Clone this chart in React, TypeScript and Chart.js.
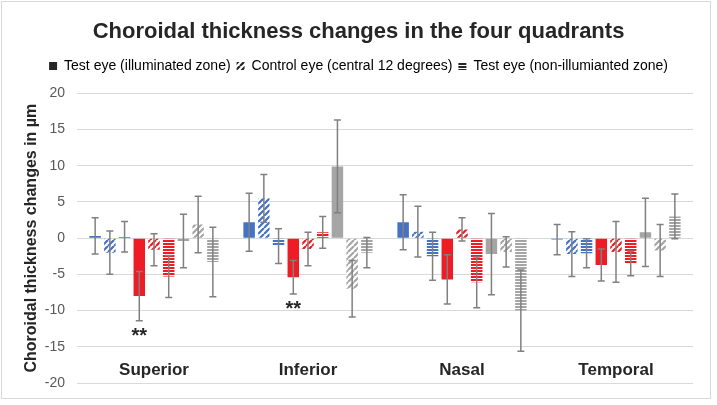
import React, { useEffect, useRef } from 'react';
import { Chart, registerables } from 'chart.js';

Chart.register(...registerables);

// ---------- data ----------
const categories = ['Superior', 'Inferior', 'Nasal', 'Temporal'];
const legendLabels = [
  'Test eye (illuminated zone)',
  'Control eye (central 12 degrees)',
  'Test eye (non-illumianted zone)',
];
const titleText = 'Choroidal thickness changes in the four quadrants';
const yAxisTitle = 'Choroidal thickness changes in µm';
const yMin = -20;
const yMax = 20;
const yStep = 5;

const blueSolid = [0.3, 2.2, 2.2, -0.2];
const blueSolidErr = [2.5, 4.0, 3.8, 2.1];
const blueDiag = [-2.0, 5.5, 0.9, -2.2];
const blueDiagErr = [3.0, 3.3, 3.5, 3.1];
const blueHoriz = [0.2, -1.1, -2.5, -2.1];
const blueHorizErr = [2.1, 2.4, 3.3, 2.0];
const redSolid = [-8.0, -5.4, -5.7, -3.7];
const redSolidErr = [3.4, 2.3, 3.4, 2.2];
const redDiag = [-1.6, -1.5, 1.2, -1.9];
const redDiagErr = [2.2, 2.3, 1.6, 4.2];
const redHoriz = [-5.3, 0.8, -6.1, -3.5];
const redHorizErr = [2.9, 2.2, 3.5, 1.7];
const graySolid = [-0.4, 9.9, -2.2, 0.8];
const graySolidErr = [3.7, 6.4, 5.6, 4.7];
const grayDiag = [1.9, -7.0, -1.9, -1.7];
const grayDiagErr = [3.9, 3.9, 2.1, 3.6];
const grayHoriz = [-3.3, -2.0, -10.0, 3.0];
const grayHorizErr = [4.8, 2.1, 5.6, 3.1];

// significance markers: series index (red solid) and category index
const sigSeries = [3, 3];
const sigCategory = [0, 1];
const sigText = ['**', '**'];

// ---------- styles ----------
const BLUE = '#4472C4';
const RED = '#EE1C25';
const GRAY = '#A5A5A5';
const DARK = '#262626';
const FONT = "'Liberation Sans', Arial, Helvetica, sans-serif";

type Kind = 'solid' | 'diag' | 'horiz';

function makeFill(color: string, kind: Kind): string | CanvasPattern {
  if (kind === 'solid') return color;
  const tile = document.createElement('canvas');
  const c = tile.getContext('2d')!;
  if (kind === 'diag') {
    const s = 6;
    tile.width = s;
    tile.height = s;
    c.fillStyle = '#ffffff';
    c.fillRect(0, 0, s, s);
    c.strokeStyle = color;
    c.lineWidth = 2.2;
    c.beginPath();
    for (const x0 of [-s, 0, s]) {
      c.moveTo(x0, s);
      c.lineTo(x0 + s, 0);
    }
    c.stroke();
  } else {
    tile.width = 4;
    tile.height = 3;
    c.fillStyle = '#ffffff';
    c.fillRect(0, 0, 4, 3);
    c.fillStyle = color;
    c.fillRect(0, 0, 4, 2);
  }
  return c.createPattern(tile, 'repeat')!;
}

export default function App() {
  const ref = useRef<HTMLCanvasElement | null>(null);

  useEffect(() => {
    if (!ref.current) return;
    const values = [blueSolid, blueDiag, blueHoriz, redSolid, redDiag, redHoriz, graySolid, grayDiag, grayHoriz];
    const errors = [blueSolidErr, blueDiagErr, blueHorizErr, redSolidErr, redDiagErr, redHorizErr, graySolidErr, grayDiagErr, grayHorizErr];
    const colors = [BLUE, BLUE, BLUE, RED, RED, RED, GRAY, GRAY, GRAY];
    const kinds: Kind[] = ['solid', 'diag', 'horiz', 'solid', 'diag', 'horiz', 'solid', 'diag', 'horiz'];

    const datasets = values.map((v, i) => ({
      label: legendLabels[i % 3],
      data: v,
      backgroundColor: makeFill(colors[i], kinds[i]),
      borderWidth: 0,
      barPercentage: 0.78,
      categoryPercentage: 0.86,
      yAxisID: 'y',
    }));

    const legendFills = [makeFill(DARK, 'solid'), makeFill(DARK, 'diag'), makeFill(DARK, 'horiz')];

    const errorBarPlugin = {
      id: 'errorBars',
      afterDatasetsDraw(chart: any) {
        const ctx = chart.ctx;
        const y = chart.scales.y;
        ctx.save();
        ctx.strokeStyle = '#808080';
        ctx.lineWidth = 1.5;
        values.forEach((v, i) => {
          const meta = chart.getDatasetMeta(i);
          meta.data.forEach((el: any, j: number) => {
            const top = y.getPixelForValue(v[j] + errors[i][j]);
            const bot = y.getPixelForValue(v[j] - errors[i][j]);
            const x = el.x;
            ctx.beginPath();
            ctx.moveTo(x, top);
            ctx.lineTo(x, bot);
            ctx.moveTo(x - 3.5, top);
            ctx.lineTo(x + 3.5, top);
            ctx.moveTo(x - 3.5, bot);
            ctx.lineTo(x + 3.5, bot);
            ctx.stroke();
          });
        });
        ctx.restore();
      },
    };

    const annotationPlugin = {
      id: 'annotations',
      afterDraw(chart: any) {
        const ctx = chart.ctx;
        const xs = chart.scales.x;
        const y = chart.scales.y;
        ctx.save();
        ctx.fillStyle = DARK;
        ctx.textAlign = 'center';
        ctx.textBaseline = 'middle';
        ctx.font = `bold 17px ${FONT}`;
        categories.forEach((c, j) => {
          ctx.fillText(c, xs.getPixelForValue(j), y.getPixelForValue(-18.25));
        });
        ctx.font = `bold 20px ${FONT}`;
        sigText.forEach((t, k) => {
          const i = sigSeries[k];
          const j = sigCategory[k];
          const el = chart.getDatasetMeta(i).data[j];
          const bot = y.getPixelForValue(values[i][j] - errors[i][j]);
          ctx.fillText(t, el.x, bot + 16);
        });
        ctx.restore();
      },
    };

    const chart = new Chart(ref.current, {
      type: 'bar',
      data: { labels: categories, datasets },
      plugins: [errorBarPlugin, annotationPlugin],
      options: {
        animation: false,
        responsive: false,
        devicePixelRatio: 1,
        layout: { padding: { left: 0, right: 0, bottom: 22, top: 0 } },
        plugins: {
          title: {
            display: true,
            text: titleText,
            color: DARK,
            font: { family: FONT, size: 22, weight: 'bold' },
            padding: { top: 19, bottom: 7.6 },
          },
          subtitle: {
            display: true,
            text: '',
            weight: 500,
            font: { family: FONT, size: 1 },
            padding: { top: 9.1, bottom: 0 },
          },
          legend: {
            display: true,
            onClick: () => {},
            labels: {
              color: '#404040',
              font: { family: FONT, size: 14 },
              boxWidth: 8,
              boxHeight: 8,
              padding: 6,
              generateLabels: () =>
                legendLabels.map((t, i) => ({
                  text: t,
                  fillStyle: legendFills[i] as any,
                  strokeStyle: 'rgba(0,0,0,0)',
                  lineWidth: 0,
                  hidden: false,
                  datasetIndex: i,
                })),
            },
          },
          tooltip: { enabled: false },
        },
        scales: {
          x: {
            display: false,
            grid: { display: false },
          },
          y: {
            min: yMin,
            max: yMax,
            afterFit: (s: any) => {
              s.width = 77;
            },
            ticks: {
              stepSize: yStep,
              color: '#595959',
              font: { family: FONT, size: 14 },
              padding: 12,
            },
            grid: { color: '#D9D9D9', lineWidth: 1, drawTicks: false },
            border: { display: false },
            title: {
              display: true,
              text: yAxisTitle,
              color: DARK,
              font: { family: FONT, size: 16, weight: 'bold' },
              padding: { top: 22, bottom: 0 },
            },
          },
          yRight: {
            position: 'right',
            min: yMin,
            max: yMax,
            display: true,
            ticks: { display: false },
            grid: { display: false, drawOnChartArea: false, drawTicks: false },
            border: { display: false },
            afterFit: (s: any) => {
              s.width = 24;
            },
          },
        },
      },
    } as any);
    return () => chart.destroy();
  }, []);

  return (
    <div style={{ position: 'fixed', left: 0, top: 0, width: 717, height: 405, background: '#ffffff' }}>
      <div
        style={{
          position: 'absolute',
          left: 1,
          top: 1,
          width: 708,
          height: 396,
          border: '1px solid #D9D9D9',
        }}
      />
      <canvas ref={ref} width={717} height={405} style={{ position: 'absolute', left: 0, top: 0 }} />
    </div>
  );
}
